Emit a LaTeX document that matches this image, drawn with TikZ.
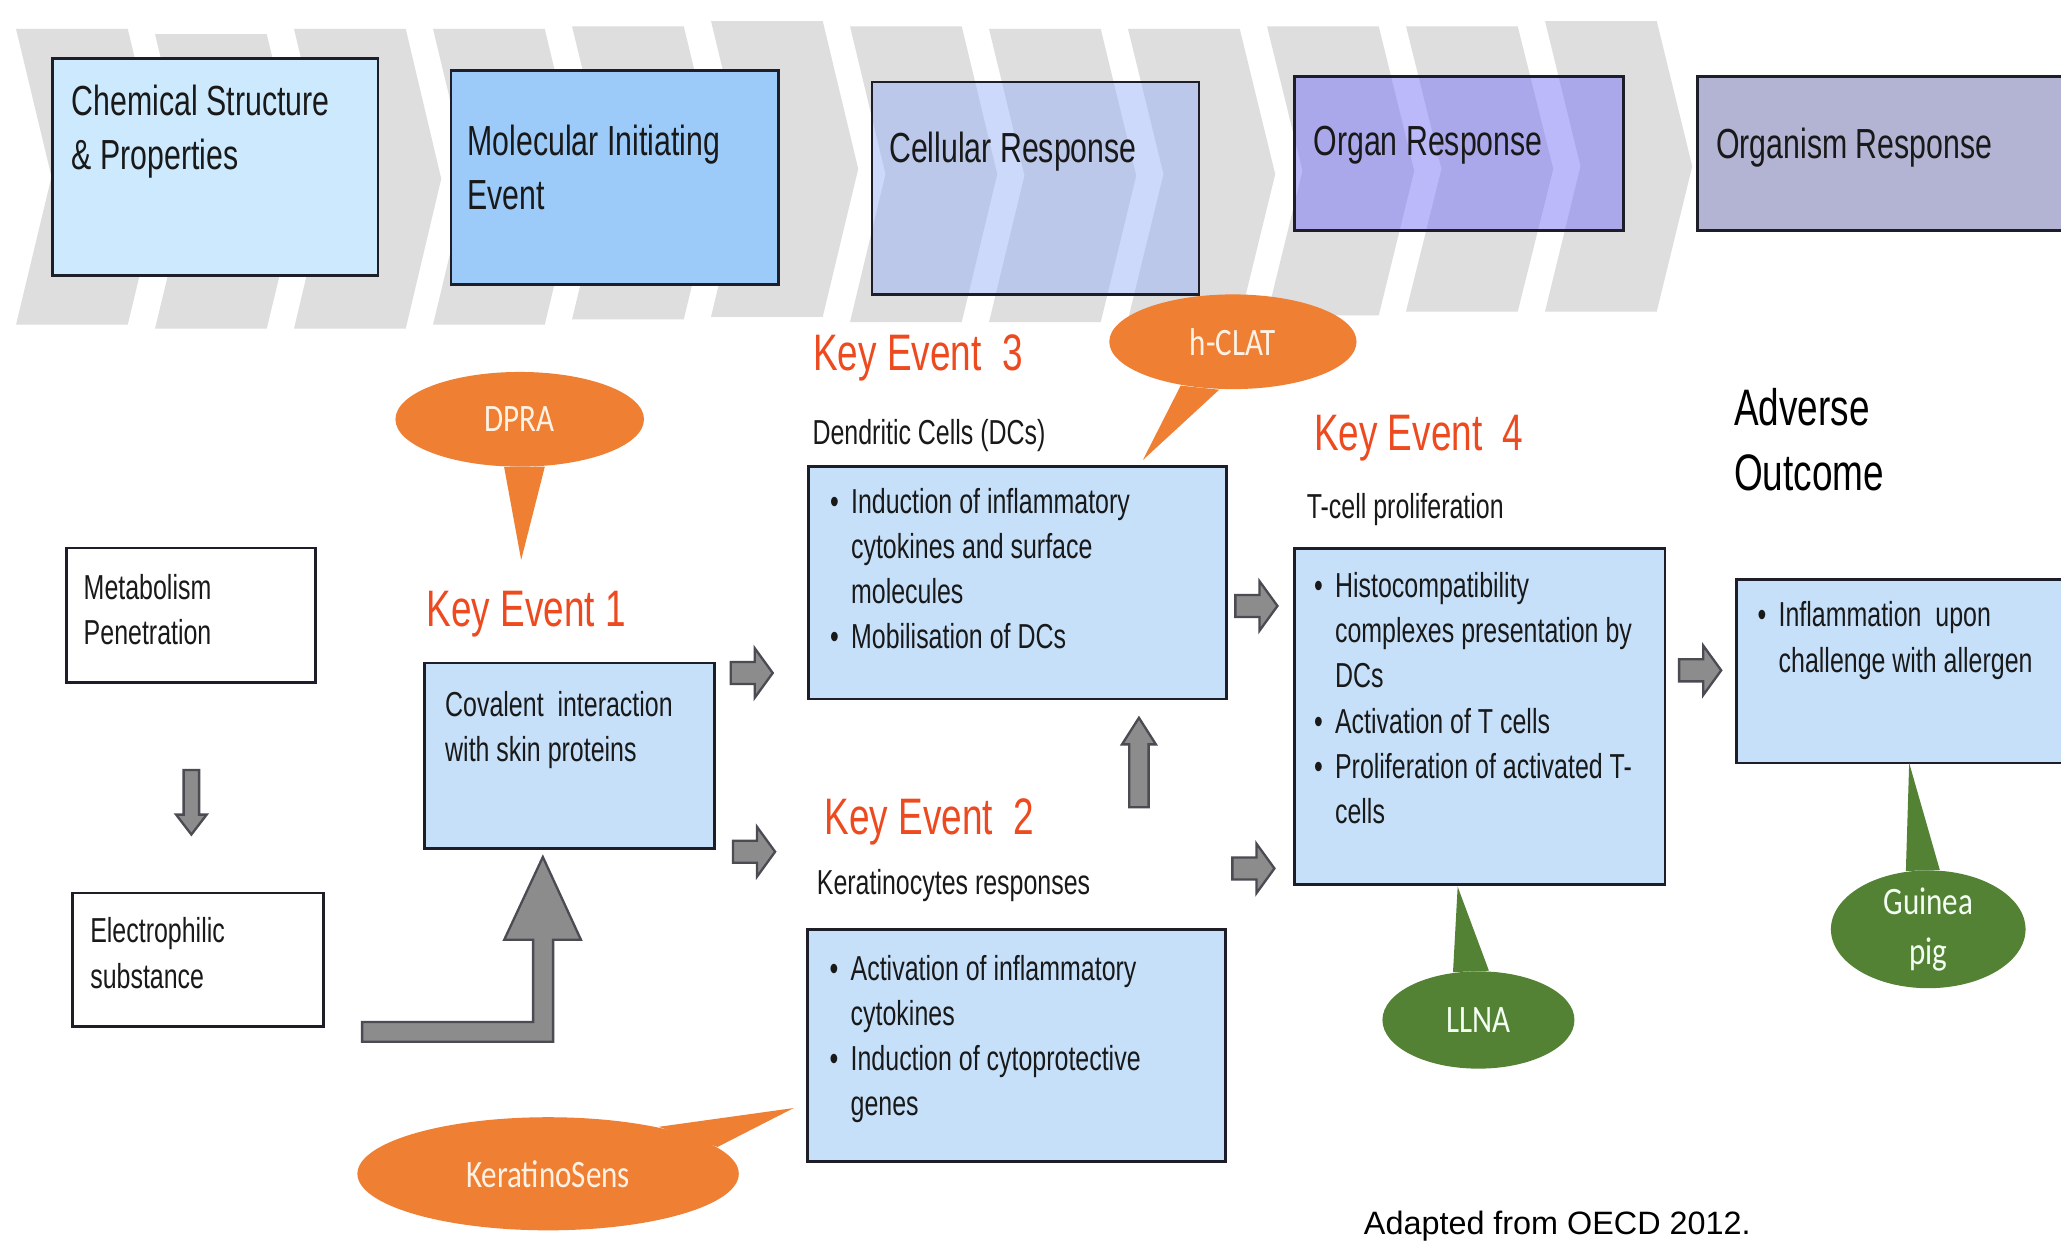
\documentclass[tikz,border=0pt]{standalone}
\usepackage{fontspec}
\setmainfont{Liberation Sans}
\newfontfamily\narrowsf[FakeStretch=0.72]{Liberation Sans}
\newfontfamily\balloonsf[FakeStretch=0.8]{Carlito}
\usetikzlibrary{shapes.geometric, shapes.arrows}
\definecolor{cstripe}{HTML}{DEDEDE}
\definecolor{cchem}{HTML}{CDE9FD}
\definecolor{cmie}{HTML}{9CCBFA}
\definecolor{ccell}{HTML}{9AB4F6}
\definecolor{corgan}{HTML}{7874F6}
\definecolor{corganism}{HTML}{B3B3D4}
\definecolor{cke}{HTML}{C6E0FA}
\definecolor{cred}{HTML}{EE4A1F}
\definecolor{corange}{HTML}{EF7F33}
\definecolor{cgreen}{HTML}{548235}
\definecolor{cline}{HTML}{1E1E28}
\definecolor{cblk}{HTML}{8C8C8C}
\newcommand\bul{\makebox[0.16cm][l]{\textbullet}}
\newcommand\ind{\hspace*{0.16cm}}
\tikzset{
  every picture/.style={x=0.01cm, y=-0.01cm},
  box/.style={draw=cline, line width=0.6pt, fill=#1, anchor=north west, inner sep=0pt},
  box/.default=cke,
  hdrtxt/.style={font=\narrowsf\fontsize{9.1}{11.7}\selectfont, text=black!90, align=left, anchor=north west, inner sep=0pt},
  bodytxt/.style={font=\narrowsf\fontsize{7.5}{9.8}\selectfont, text=black!90, align=left, anchor=north west, inner sep=0pt},
  keyev/.style={font=\narrowsf\fontsize{11.1}{13.9}\selectfont, text=cred, align=left, anchor=north west, inner sep=0pt},
  balloon/.style={ellipse, fill=#1, inner sep=0pt, font=\balloonsf\fontsize{8.4}{10.8}\selectfont, align=center},
  blk/.style={single arrow, draw=cline!80, fill=cblk, line width=0.5pt, inner xsep=0pt, anchor=tail},
  rarrow/.style={blk, minimum height=0.32cm, minimum width=0.36cm, inner ysep=0.075cm,
    single arrow head extend=0.105cm, single arrow tip angle=108},
}
\begin{document}
\begin{tikzpicture}
  \fill[white] (0,0) rectangle (1568,945);
  \useasboundingbox (0,0) rectangle (1568,945);
  % chevron band
  \foreach \k/\t/\b in {0/22/247, 1/26/250, 2/22/250, 3/22/247, 4/20/243, 5/16/241,
                        6/20/245, 7/22/245, 8/22/243, 9/20/240, 10/20/237, 11/16/237} {
    \pgfmathsetmacro\xl{12.2+105.75*\k}
    \fill[cstripe] (\xl,\t) -- (\xl+85,\t) -- (\xl+112,{(\t+\b)/2}) -- (\xl+85,\b)
      -- (\xl,\b) -- (\xl+27,{(\t+\b)/2}) -- cycle;
  }
  % header boxes
  \node[box=cchem, minimum width=2.474cm, minimum height=1.649cm] (chem) at (39,43.6) {};
  \node[box=cmie, minimum width=2.488cm, minimum height=1.625cm] (mie) at (342,52.5) {};
  \node[box=ccell, fill opacity=0.5, minimum width=2.487cm, minimum height=1.616cm] (cell) at (662.3,61.4) {};
  \node[box=corgan, fill opacity=0.5, minimum width=2.501cm, minimum height=1.174cm] (organ) at (983.7,57) {};
  \node[box=corganism, minimum width=3.1cm, minimum height=1.174cm] (organism) at (1290.3,57) {};
  \node[hdrtxt] (chemT) at (54,64) {Chemical Structure\\\& Properties};
  \node[hdrtxt] (mieT) at (355,94.3) {Molecular Initiating\\Event};
  \node[hdrtxt] (cellT) at (675.8,100) {Cellular Response};
  \node[hdrtxt] (organT) at (998.7,95) {Organ Response};
  \node[hdrtxt] (organismT) at (1305,96.4) {Organism Response};

  % left column
  \node[box=white, minimum width=1.894cm, minimum height=1.02cm] (metab) at (49.3,415.9) {};
  \node[bodytxt] (metabT) at (63,436) {Metabolism\\Penetration};
  \node[box=white, minimum width=1.912cm, minimum height=1.014cm] (elec) at (54,678.4) {};
  \node[bodytxt] (elecT) at (68,697.4) {Electrophilic\\substance};
  \node[blk, minimum height=0.49cm, minimum width=0.215cm, inner ysep=0.05cm,
    single arrow head extend=0.0575cm, single arrow tip angle=75, rotate=-90] (adown) at (145.6,585) {};
  % bent arrow up to key event 1
  \filldraw[fill=cblk, draw=cline!80, line width=0.5pt] (275.5,777.5) -- (405.6,777.5) -- (405.6,715)
    -- (383.6,715) -- (413,652) -- (442,715) -- (420.8,715) -- (420.8,792.5) -- (275.5,792.5) -- cycle;

  % key events
  \node[keyev] (ke1L) at (324,449) {Key Event 1};
  \node[box, minimum width=2.205cm, minimum height=1.408cm] (ke1) at (322,503.4) {};
  \node[bodytxt] (ke1T) at (338,525) {Covalent\ \ interaction\\with skin proteins};

  \node[keyev] (ke3L) at (618,254) {Key Event\ \ 3};
  \node[bodytxt] (ke3S) at (617.5,318) {Dendritic Cells (DCs)};
  \node[box, minimum width=3.177cm, minimum height=1.769cm] (ke3) at (614,353.8) {};
  \node[bodytxt] (ke3T) at (630.8,370.5) {\bul Induction of inflammatory\\\ind cytokines and surface\\\ind molecules\\\bul Mobilisation of DCs};

  \node[keyev] (ke2L) at (626.7,607) {Key Event\ \ 2};
  \node[bodytxt] (ke2S) at (620.8,660.6) {Keratinocytes responses};
  \node[box, minimum width=3.174cm, minimum height=1.762cm] (ke2) at (613.5,706.3) {};
  \node[bodytxt] (ke2T) at (630.5,725.8) {\bul Activation of inflammatory\\\ind cytokines\\\bul Induction of cytoprotective\\\ind genes};

  \node[keyev] (ke4L) at (999,315) {Key Event\ \ 4};
  \node[bodytxt] (ke4S) at (993.5,374.8) {T-cell proliferation};
  \node[box, minimum width=2.819cm, minimum height=2.556cm] (ke4) at (983.6,416.2) {};
  \node[bodytxt] (ke4T) at (999,434.5) {\bul Histocompatibility\\\ind complexes presentation by\\\ind DCs\\\bul Activation of T cells\\\bul Proliferation of activated T-\\\ind cells};

  \node[keyev, text=black] (aoL) at (1318.6,295) {Adverse\\Outcome};
  \node[box, minimum width=2.802cm, minimum height=1.395cm] (ao) at (1319.8,439.9) {};
  \node[bodytxt] (aoT) at (1336.5,457) {\bul Inflammation\ \ upon\\\ind challenge with allergen};

  % block arrows
  \node[rarrow] (a13) at (555,512) {};
  \node[rarrow] (a12) at (556.8,648) {};
  \node[rarrow] (a34) at (939,461) {};
  \node[rarrow] (a24) at (936.7,660.7) {};
  \node[rarrow] (a4o) at (1276.6,510) {};
  \node[blk, minimum height=0.68cm, minimum width=0.24cm, inner ysep=0.065cm,
    single arrow head extend=0.055cm, single arrow tip angle=65, rotate=90] (a23) at (866.5,615) {};

  % test methods
  \node[balloon=corange, text=orange!10, minimum width=1.89cm, minimum height=0.72cm] (dpra) at (395.4,319) {DPRA};
  \coordinate (dpraTip) at (396.5,426);
  \fill[corange] (dpra.-108) -- (dpraTip) -- (dpra.-62) -- cycle;
  \node[balloon=corange, text=orange!10, minimum width=1.88cm, minimum height=0.72cm] (hclat) at (938,260) {h-CLAT};
  \coordinate (hclatTip) at (869.5,350);
  \fill[corange] (hclat.-140) -- (hclatTip) -- (hclat.-106) -- cycle;
  \node[balloon=corange, text=orange!10, minimum width=2.9cm, minimum height=0.86cm] (kera) at (417,893) {KeratinoSens};
  \coordinate (keraTip) at (603.8,843);
  \fill[corange] (kera.23) -- (keraTip) -- (kera.9) -- cycle;
  \node[balloon=cgreen, text=green!5, minimum width=1.46cm, minimum height=0.74cm] (llna) at (1124.8,776) {LLNA};
  \coordinate (llnaTip) at (1109,674.6);
  \fill[cgreen] (llna.118) -- (llnaTip) -- (llna.78) -- cycle;
  \node[balloon=cgreen, text=green!5, minimum width=1.48cm, minimum height=0.89cm] (guinea) at (1467,707) {Guinea\\pig};
  \coordinate (guineaTip) at (1452.5,580.5);
  \fill[cgreen] (guinea.111) -- (guineaTip) -- (guinea.79) -- cycle;

  \node[font=\fontsize{7}{8}\selectfont, anchor=north west, inner sep=0pt] (src) at (1037,921) {Adapted from OECD 2012.};
\end{tikzpicture}
\end{document}
